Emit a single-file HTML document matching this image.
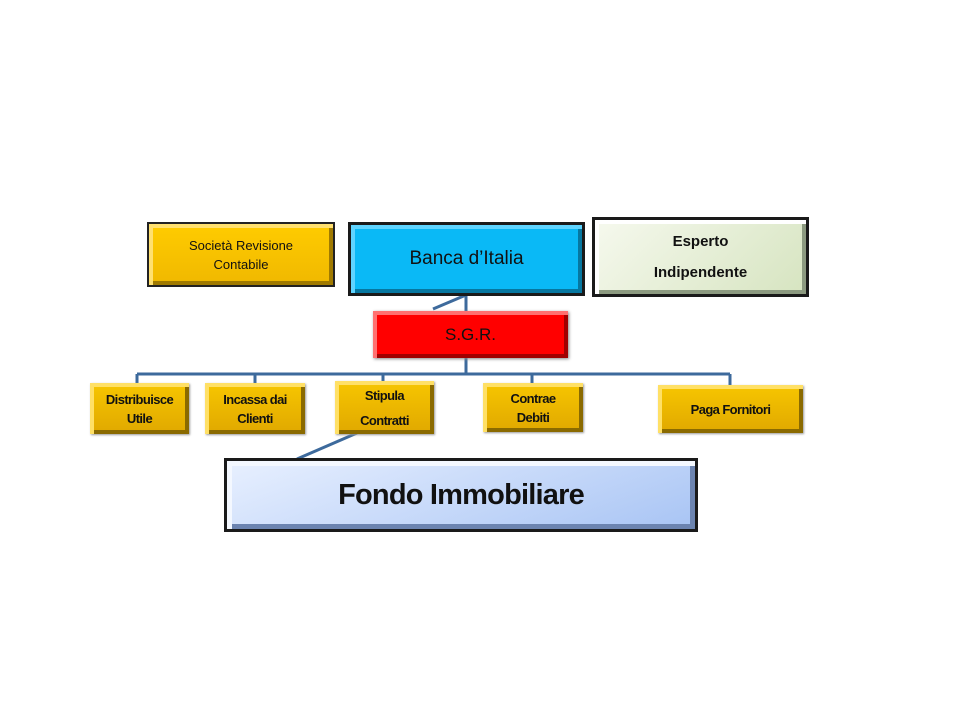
<!DOCTYPE html>
<html><head><meta charset="utf-8"><style>
body{margin:0;width:960px;height:720px;background:#fff;position:relative;overflow:hidden;font-family:"Liberation Sans",sans-serif}
.b{position:absolute;box-sizing:border-box;display:flex;align-items:center;justify-content:center;text-align:center;color:#111}
.gold{background:linear-gradient(#f7c600,#e0a800);box-shadow:inset 4px 4px 0 #ffe066,inset -4px -4px 0 #8a6a00,1px 1px 2px #999}
.c{font-weight:bold;font-size:13px;line-height:19px;letter-spacing:-0.6px}
svg{position:absolute;left:0;top:0}
</style></head><body>
<svg width="960" height="720">
<g stroke="#3d6a9c" stroke-width="3" fill="none">
<line x1="466" y1="295" x2="466" y2="311"/>
<line x1="466" y1="295" x2="433" y2="309"/>
<line x1="466" y1="357" x2="466" y2="374"/>
<line x1="137" y1="374" x2="730" y2="374"/>
<line x1="137" y1="374" x2="137" y2="384"/>
<line x1="255" y1="374" x2="255" y2="384"/>
<line x1="383" y1="374" x2="383" y2="382"/>
<line x1="532" y1="374" x2="532" y2="384"/>
<line x1="730" y1="374" x2="730" y2="386"/>
<line x1="357" y1="433" x2="297" y2="459"/>
</g></svg>
<div class="b" style="left:147px;top:222px;width:188px;height:65px;background:linear-gradient(#ffcc00,#f0b800);border:2px solid #222;box-shadow:inset 4px 4px 0 #ffe070,inset -4px -4px 0 #a07a00;font-size:13px;line-height:19px">Società Revisione<br>Contabile</div>
<div class="b" style="left:348px;top:222px;width:237px;height:74px;background:#0ab9f6;border:3px solid #1a1a1a;box-shadow:inset 4px 4px 0 #5fd4ff,inset -4px -4px 0 #0677a0;font-size:19px">Banca d’Italia</div>
<div class="b" style="left:592px;top:217px;width:217px;height:80px;background:linear-gradient(135deg,#f6f9ee,#d6e4c0);border:3px solid #1a1a1a;box-shadow:inset 4px 4px 0 #fff,inset -4px -4px 0 #8c9a80;font-size:15px;font-weight:bold;line-height:31px">Esperto<br>Indipendente</div>
<div class="b" style="left:373px;top:311px;width:195px;height:47px;background:#ff0000;box-shadow:inset 4px 4px 0 #ff7070,inset -4px -4px 0 #a00000,1px 1px 3px #888;font-size:17px">S.G.R.</div>
<div class="b gold c" style="left:90px;top:383px;width:99px;height:51px">Distribuisce<br>Utile</div>
<div class="b gold c" style="left:205px;top:383px;width:100px;height:51px">Incassa dai<br>Clienti</div>
<div class="b gold c" style="left:335px;top:381px;width:99px;height:53px;line-height:25px">Stipula<br>Contratti</div>
<div class="b gold c" style="left:483px;top:383px;width:100px;height:49px">Contrae<br>Debiti</div>
<div class="b gold c" style="left:658px;top:385px;width:145px;height:48px">Paga Fornitori</div>
<div class="b" style="left:224px;top:458px;width:474px;height:74px;background:linear-gradient(160deg,#e8f0ff,#a8c4f4);border:3px solid #1a1a1a;box-shadow:inset 5px 5px 0 #f4f8ff,inset -5px -5px 0 #6c84b0;font-size:29px;font-weight:bold;letter-spacing:-0.8px">Fondo Immobiliare</div>
</body></html>
